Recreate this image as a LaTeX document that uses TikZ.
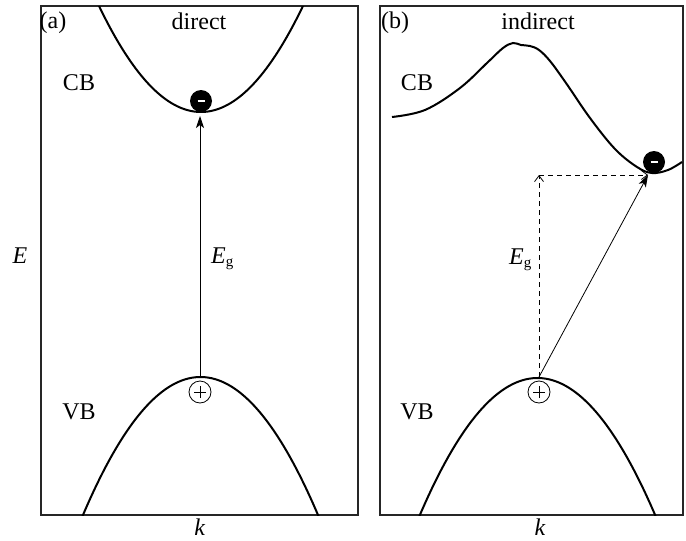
\documentclass[tikz,border=0pt]{standalone}
\usepackage{fontspec}
\setmainfont{Liberation Serif}
\usetikzlibrary{arrows.meta}
\tikzset{
  panel/.style={draw=black!85, line width=1.1pt},
  band/.style={line width=2pt},
  lbl/.style={font=\fontsize{24}{28}\selectfont, inner sep=0pt},
  elec/.style={circle, fill=black, minimum size=22pt, inner sep=0pt},
  hole/.style={circle, draw=black, line width=0.8pt, fill=white, minimum size=22pt, inner sep=0pt},
  trans/.style={line width=0.8pt, -{Stealth[length=12pt,width=8pt,inset=3pt]}},
  dtrans/.style={line width=0.8pt, dash pattern=on 5pt off 4pt, -{Straight Barb[length=6pt,width=9pt]}},
  pm/.style={line width=0.8pt},
}
\newcommand{\Eg}{\textit{E}\raisebox{-3pt}{\fontsize{15}{15}\selectfont g}}
\begin{document}
\begin{tikzpicture}[x=1pt,y=-1pt]
\useasboundingbox (0,0) rectangle (686,541);
% panels
\draw[panel] (41,6) rectangle (358,515);
\draw[panel] (380,6) rectangle (683,515);
% bands, left panel
\begin{scope}
  \clip (41,6) rectangle (358,515);
  \draw[band] plot[domain=90:312, samples=80] (\x, {112-0.0102*(\x-201)*(\x-201)});
  \draw[band] plot[domain=70:330, samples=80] (\x, {377+0.01*(\x-200.5)*(\x-200.5)});
\end{scope}
% bands, right panel
\begin{scope}
  \clip (380,6) rectangle (683,515);
  \draw[band] plot[smooth, tension=0.6] coordinates {(392,117) (425,110) (460,88) (488,62) (503,48) (513,43) (521,45) (530,46) (539,50) (550,61) (566,83) (590,118) (615,149) (637,167) (652,173) (668,170) (682,162)};
  \draw[band] plot[domain=405:670, samples=80] (\x, {378+0.0099*(\x-537.5)*(\x-537.5)});
\end{scope}
% carriers
\node[elec] (e1) at (201,101) {\textcolor{white}{\rule[-1.1pt]{7pt}{2.2pt}}};
\node[elec] (e2) at (654,162) {\textcolor{white}{\rule[-1.1pt]{7pt}{2.2pt}}};
\node[hole] (h1) at (200,392) {};
\node[hole] (h2) at (539,392) {};
\draw[pm] ([xshift=-6pt]h1.center) -- ([xshift=6pt]h1.center);
\draw[pm] ([yshift=-6pt]h1.center) -- ([yshift=6pt]h1.center);
\draw[pm] ([xshift=-6pt]h2.center) -- ([xshift=6pt]h2.center);
\draw[pm] ([yshift=-6pt]h2.center) -- ([yshift=6pt]h2.center);
% transitions
\coordinate (vb1) at (200,377);
\coordinate (cb1) at (200,116);
\coordinate (vb2) at (539,377);
\coordinate (corner) at (539,175);
\coordinate (tip) at (648,175);
\draw[trans] (vb1) -- (cb1);
\draw[dtrans] (vb2) -- (corner);
\draw[dtrans] (corner) -- (tip);
\draw[trans] (vb2) -- (tip);
% labels
\node[lbl, anchor=base] (la) at (53,28) {(a)};
\node[lbl, anchor=base] (lb) at (395,28) {(b)};
\node[lbl, anchor=base] (ld) at (199,29) {direct};
\node[lbl, anchor=base] (li) at (538,29) {indirect};
\node[lbl, anchor=base] (cba) at (79,90) {CB};
\node[lbl, anchor=base] (cbb) at (417,90) {CB};
\node[lbl, anchor=base] (vba) at (79,419) {VB};
\node[lbl, anchor=base] (vbb) at (417,419) {VB};
\node[lbl, anchor=base] (le) at (20,263) {\textit{E}};
\node[lbl, anchor=base west] (ega) at (211,263) {\Eg};
\node[lbl, anchor=base west] (egb) at (509,264) {\Eg};
\node[lbl, anchor=base] (ka) at (200,535) {\textit{k}};
\node[lbl, anchor=base] (kb) at (540,535) {\textit{k}};
\end{tikzpicture}
\end{document}
